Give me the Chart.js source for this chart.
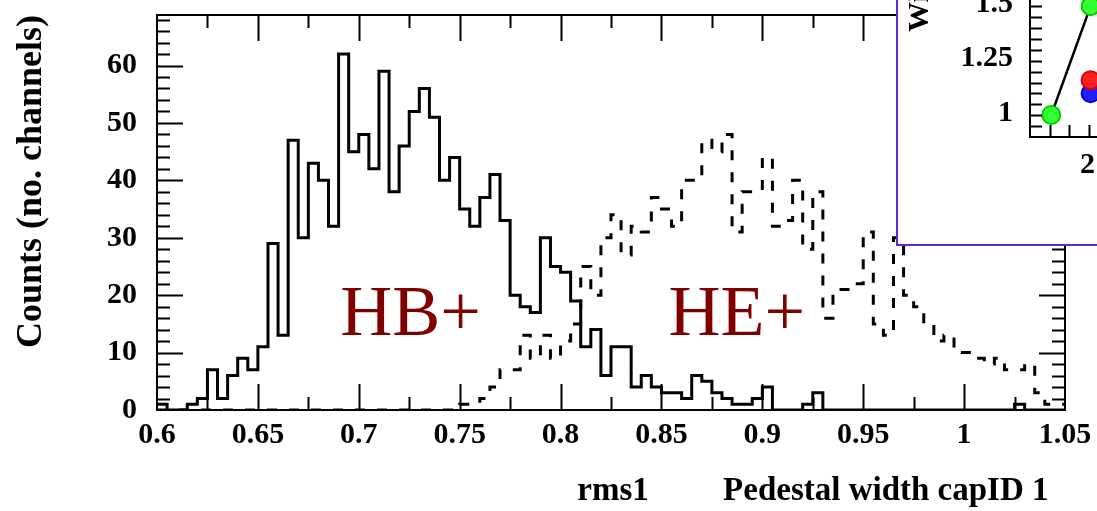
<!DOCTYPE html>
<html>
<head>
<meta charset="utf-8">
<script src="https://cdn.jsdelivr.net/npm/chart.js@4.4.1/dist/chart.umd.min.js"></script>
<style>
  html, body { margin: 0; padding: 0; background: #fff; overflow: hidden; }
  #wrap { position: relative; width: 1097px; height: 511px; overflow: hidden; }
  #main { position: absolute; left: 0; top: 0; }
  #inset { position: absolute; left: 896px; top: -167px; width: 400px; height: 409px;
           border: 2px solid #5a2bd4; background: #fff; }
</style>
</head>
<body>
<div id="wrap">
  <canvas id="main" width="1097" height="511"></canvas>
  <div id="inset"><canvas id="insetChart" width="400" height="409"></canvas></div>
</div>
<script>
// histogram binning (rms1, 90 bins of 0.005)
const binLow = 0.6;
const binWidth = 0.005;

// HB+ channels per bin (solid)
const hbCounts = [
  1, 0, 0, 1, 2, 7, 2, 6, 9, 7,
  11, 29, 13, 47, 30, 43, 40, 32, 62, 45,
  48, 42, 59, 38, 46, 52, 56, 51, 40, 44,
  35, 32, 37, 41, 33, 20, 18, 17, 30, 25,
  24, 19, 11, 14, 6, 11, 11, 4, 6, 4,
  3, 3, 2, 6, 5, 3, 2, 1, 1, 2,
  4, 0, 0, 0, 1, 3, 0, 0, 0, 0,
  0, 0, 0, 0, 0, 0, 0, 0, 0, 0,
  0, 0, 0, 0, 0, 1, 0, 0, 0, 0
];

// HE+ channels per bin (dashed)
const heCounts = [
  0, 0, 0, 0, 0, 0, 0, 0, 0, 0,
  0, 0, 0, 0, 0, 0, 0, 0, 0, 0,
  0, 0, 0, 0, 0, 0, 0, 0, 0, 0,
  1, 1, 2, 4, 7, 7, 13, 9, 13, 9,
  12, 15, 25, 20, 30, 34, 27, 32, 31, 37,
  35, 32, 40, 40, 47, 45, 48, 31, 38, 38,
  44, 32, 33, 40, 28, 38, 16, 21, 21, 22,
  31, 15, 13, 30, 20, 18, 15, 12, 13, 10,
  10, 9, 8, 9, 7, 7, 8, 3, 1, 1
];

const xTicks = [0.6, 0.65, 0.7, 0.75, 0.8, 0.85, 0.9, 0.95, 1, 1.05];
const xTickLabels = ['0.6', '0.65', '0.7', '0.75', '0.8', '0.85', '0.9', '0.95', '1', '1.05'];
const yTicks = [0, 10, 20, 30, 40, 50, 60];
const detectorLabels = ['HB+', 'HE+'];

// small panel in the corner: width vs. point
const insetGreen = [{ x: 1, y: 0.99 }, { x: 2, y: 1.49 }];
const insetRed = [{ x: 2, y: 1.15 }];
const insetBlue = [{ x: 2, y: 1.09 }];
const insetYTicks = [1, 1.25, 1.5, 1.75, 2];
const insetYLabels = ['1', '1.25', '1.5', '1.75', '2'];
const insetXTicks = [2];
const insetXLabels = ['2'];

const serif = "'Liberation Serif', 'DejaVu Serif', serif";
const tickFont = { family: serif, size: 30, weight: 'bold' };

function toSteps(counts) {
  const pts = counts.map((c, i) => ({ x: binLow + i * binWidth, y: c }));
  pts.push({ x: binLow + counts.length * binWidth, y: counts[counts.length - 1] });
  return pts;
}

// ROOT style frame: ticks pointing inwards, major + minor
const frameTicks = {
  id: 'frameTicks',
  afterDatasetsDraw(chart, args, o) {
    const { ctx, chartArea: a } = chart;
    const xs = chart.scales.x, ys = chart.scales.y;
    ctx.save();
    ctx.strokeStyle = '#000';
    ctx.lineWidth = o.lineWidth;
    ctx.beginPath();
    let n = Math.round((xs.max - xs.min) / o.xMinor);
    for (let k = 1; k < n; k++) {
      const v = xs.min + k * o.xMinor;
      const q = v / o.xMajor;
      const len = Math.abs(q - Math.round(q)) < 1e-6 ? o.majorLen : o.minorLen;
      const px = Math.round(xs.getPixelForValue(v)) + 0.5;
      ctx.moveTo(px, a.bottom); ctx.lineTo(px, a.bottom - len);
      if (o.mirror) { ctx.moveTo(px, a.top); ctx.lineTo(px, a.top + len); }
    }
    n = Math.round((ys.max - ys.min) / o.yMinor);
    for (let k = 1; k <= n; k++) {
      const v = ys.min + k * o.yMinor;
      if (v >= ys.max) break;
      const q = v / o.yMajor;
      const len = Math.abs(q - Math.round(q)) < 1e-6 ? o.majorLen : o.minorLen;
      const py = Math.round(ys.getPixelForValue(v)) + 0.5;
      ctx.moveTo(a.left, py); ctx.lineTo(a.left + len, py);
      if (o.mirror) { ctx.moveTo(a.right, py); ctx.lineTo(a.right - len, py); }
    }
    ctx.stroke();
    ctx.lineWidth = o.frameWidth;
    ctx.strokeRect(a.left, a.top, a.right - a.left, a.bottom - a.top);
    ctx.restore();
  }
};

// detector names written inside the plot
const detectorText = {
  id: 'detectorText',
  afterDatasetsDraw(chart, args, o) {
    const { ctx } = chart;
    const xs = chart.scales.x, ys = chart.scales.y;
    ctx.save();
    ctx.font = o.font;
    ctx.fillStyle = o.color;
    ctx.textAlign = 'left';
    ctx.textBaseline = 'alphabetic';
    o.items.forEach(it => ctx.fillText(it.text, xs.getPixelForValue(it.x), ys.getPixelForValue(it.y)));
    ctx.restore();
  }
};

new Chart(document.getElementById('main'), {
  type: 'line',
  data: {
    datasets: [
      {
        label: 'HB+',
        data: toSteps(hbCounts),
        stepped: 'before',
        borderColor: '#000',
        borderWidth: 3,
        pointRadius: 0,
        fill: false
      },
      {
        label: 'HE+',
        data: toSteps(heCounts),
        stepped: 'before',
        borderColor: '#000',
        borderWidth: 3,
        borderDash: [10, 12],
        pointRadius: 0,
        fill: false
      }
    ]
  },
  options: {
    responsive: false,
    animation: false,
    layout: { padding: { top: 15, right: 32, left: 0, bottom: 0 } },
    plugins: {
      legend: { display: false },
      tooltip: { enabled: false },
      frameTicks: { lineWidth: 2, frameWidth: 2, majorLen: 26, minorLen: 13,
                    xMajor: 0.05, xMinor: 0.025, yMajor: 10, yMinor: 2, mirror: true },
      detectorText: {
        font: '72px ' + serif,
        color: '#800000',
        items: [
          { text: detectorLabels[0], x: 0.6908, y: 13.1 },
          { text: detectorLabels[1], x: 0.8535, y: 13.1 }
        ]
      }
    },
    scales: {
      x: {
        type: 'linear',
        min: 0.6,
        max: 1.05,
        afterBuildTicks: s => { s.ticks = xTicks.map(v => ({ value: v })); },
        afterFit: s => { s.height = 101; s.paddingLeft = 0; s.paddingRight = 0; },
        grid: { display: false, drawTicks: false },
        border: { display: true, color: '#000', width: 2 },
        ticks: {
          autoSkip: false, maxRotation: 0, padding: 7, color: '#000', font: tickFont,
          callback: (v, i) => xTickLabels[i]
        },
        title: {
          display: true,
          text: 'rms1         Pedestal width capID 1  ',
          align: 'end',
          color: '#000',
          font: { family: serif, size: 33, weight: 'bold' },
          padding: { top: 0, bottom: 0 }
        }
      },
      y: {
        type: 'linear',
        min: 0,
        max: 68.8,
        afterBuildTicks: s => { s.ticks = yTicks.map(v => ({ value: v })); },
        afterFit: s => { s.width = 157; s.paddingTop = 0; s.paddingBottom = 0; },
        grid: { display: false, drawTicks: false },
        border: { display: true, color: '#000', width: 2 },
        ticks: { padding: 20, color: '#000', font: tickFont, callback: v => String(v) },
        title: {
          display: true,
          text: 'Counts (no. channels)',
          align: 'end',
          color: '#000',
          font: { family: serif, size: 36, weight: 'bold' },
          padding: { top: 10, bottom: 0 }
        }
      }
    }
  },
  plugins: [frameTicks, detectorText]
});

new Chart(document.getElementById('insetChart'), {
  type: 'scatter',
  data: {
    datasets: [
      {
        data: insetGreen,
        showLine: true,
        borderColor: '#000',
        borderWidth: 2.5,
        pointRadius: 9,
        pointBackgroundColor: '#33ff33',
        pointBorderColor: '#00cc00',
        pointBorderWidth: 2
      },
      {
        data: insetRed,
        pointRadius: 9,
        pointBackgroundColor: '#ff2020',
        pointBorderColor: '#dd0000',
        pointBorderWidth: 2
      },
      {
        data: insetBlue,
        pointRadius: 9,
        pointBackgroundColor: '#2020ff',
        pointBorderColor: '#0000cc',
        pointBorderWidth: 2
      }
    ]
  },
  options: {
    responsive: false,
    animation: false,
    layout: { padding: 0 },
    plugins: {
      legend: { display: false },
      tooltip: { enabled: false },
      frameTicks: { lineWidth: 2, frameWidth: 2, majorLen: 23, minorLen: 12,
                    xMajor: 1, xMinor: 0.5, yMajor: 0.25, yMinor: 0.05, mirror: false }
    },
    scales: {
      x: {
        type: 'linear',
        min: 0.46,
        max: 6.99,
        afterBuildTicks: s => { s.ticks = insetXTicks.map(v => ({ value: v })); },
        afterFit: s => { s.height = 107; s.paddingLeft = 0; s.paddingRight = 0; },
        grid: { display: false, drawTicks: false },
        border: { display: true, color: '#000', width: 2 },
        ticks: { autoSkip: false, maxRotation: 0, padding: 10, labelOffset: -3, color: '#000',
                 font: tickFont, callback: (v, i) => insetXLabels[i] }
      },
      y: {
        type: 'linear',
        min: 0.889,
        max: 2.226,
        afterBuildTicks: s => { s.ticks = insetYTicks.map(v => ({ value: v })); },
        afterFit: s => { s.width = 132; s.paddingTop = 0; s.paddingBottom = 0; },
        grid: { display: false, drawTicks: false },
        border: { display: true, color: '#000', width: 2 },
        ticks: { padding: 17, color: '#000', font: tickFont, callback: (v, i) => insetYLabels[i] },
        title: {
          display: true,
          text: 'Width',
          color: '#000',
          font: { family: serif, size: 30, weight: 'bold' },
          padding: { top: 4, bottom: 0 }
        }
      }
    }
  },
  plugins: [frameTicks]
});
</script>
</body>
</html>
